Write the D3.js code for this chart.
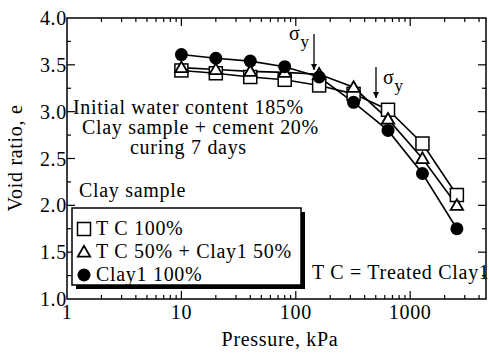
<!DOCTYPE html>
<html>
<head>
<meta charset="utf-8">
<script src="https://cdn.jsdelivr.net/npm/d3@7"></script>
<style>
  body { margin: 0; background: #fff; }
  svg text { font-family: "Liberation Serif", "Times New Roman", serif; fill: #000; letter-spacing: 0.7px; }
</style>
</head>
<body>
<svg id="chart" width="489" height="354"></svg>
<script>
// data
const pressures = [10, 20, 40, 80, 160, 320, 640, 1280, 2560];
const tc100   = [3.44, 3.41, 3.37, 3.34, 3.28, 3.19, 3.02, 2.66, 2.11];
const tc50    = [3.47, 3.45, 3.43, 3.42, 3.40, 3.26, 2.92, 2.50, 2.00];
const clay100 = [3.61, 3.57, 3.54, 3.48, 3.37, 3.10, 2.80, 2.34, 1.75];
const seriesNames = ["T C 100%", "T C 50% + Clay1 50%", "Clay1 100%"];
const seriesShapes = ["square", "triangle", "circle"];
const xTicks = [1, 10, 100, 1000];
const yTicks = [1.0, 1.5, 2.0, 2.5, 3.0, 3.5, 4.0];

const svg = d3.select('#chart')
const pLeft = 67, pRight = 486, pTop = 18, pBottom = 299
const fs = 20

const x = d3.scaleLog().domain([1, 4600]).range([pLeft, pRight])
const y = d3.scaleLinear().domain([1, 4]).range([pBottom, pTop])

// frame
svg.append('rect')
  .attr('x', pLeft).attr('y', pTop)
  .attr('width', pRight - pLeft).attr('height', pBottom - pTop)
  .attr('fill', 'none').attr('stroke', '#000').attr('stroke-width', 1.5)

// log minor ticks for top / bottom
let minor = []
for (let d = 1; d < 4600; d *= 10) {
  for (let k = 2; k <= 9; k++) if (d * k < 4600) minor.push(d * k)
}
const tickG = svg.append('g').attr('stroke', '#000').attr('stroke-width', 1.2)
minor.forEach(v => {
  tickG.append('line').attr('x1', x(v)).attr('x2', x(v)).attr('y1', pBottom).attr('y2', pBottom - 4)
  tickG.append('line').attr('x1', x(v)).attr('x2', x(v)).attr('y1', pTop).attr('y2', pTop + 4)
})
xTicks.slice(1).forEach(v => {
  tickG.append('line').attr('x1', x(v)).attr('x2', x(v)).attr('y1', pBottom).attr('y2', pBottom - 8)
  tickG.append('line').attr('x1', x(v)).attr('x2', x(v)).attr('y1', pTop).attr('y2', pTop + 8)
})
d3.range(1.25, 4, 0.5).forEach(v => {
  tickG.append('line').attr('x1', pLeft).attr('x2', pLeft + 4).attr('y1', y(v)).attr('y2', y(v))
  tickG.append('line').attr('x1', pRight).attr('x2', pRight - 4).attr('y1', y(v)).attr('y2', y(v))
})
yTicks.slice(1, -1).forEach(v => {
  tickG.append('line').attr('x1', pLeft).attr('x2', pLeft + 8).attr('y1', y(v)).attr('y2', y(v))
  tickG.append('line').attr('x1', pRight).attr('x2', pRight - 8).attr('y1', y(v)).attr('y2', y(v))
})

// tick labels
svg.selectAll('.xl').data(xTicks).enter().append('text')
  .attr('x', d => x(d)).attr('y', pBottom + 20)
  .attr('text-anchor', 'middle').attr('font-size', fs)
  .text(d => d)
svg.selectAll('.yl').data(yTicks).enter().append('text')
  .attr('x', pLeft).attr('y', d => y(d) + 7)
  .attr('text-anchor', 'end').attr('font-size', fs)
  .text(d => d.toFixed(1))

// axis titles
svg.append('text').attr('x', 280).attr('y', 346)
  .attr('text-anchor', 'middle').attr('font-size', fs).text('Pressure, kPa')
svg.append('text').attr('transform', 'translate(22,158) rotate(-90)')
  .attr('text-anchor', 'middle').attr('font-size', fs).text('Void ratio, e')

// series
const series = [tc100, tc50, clay100]
const line = d3.line().x((d, i) => x(pressures[i])).y(d => y(d))

series.forEach(s => {
  svg.append('path').attr('d', line(s))
    .attr('fill', 'none').attr('stroke', '#000').attr('stroke-width', 1.6)
})

function drawMarker(g, shape, cx, cy) {
  if (shape === 'square') {
    g.append('rect').attr('x', cx - 6.5).attr('y', cy - 6.5).attr('width', 13).attr('height', 13)
      .attr('fill', '#fff').attr('stroke', '#000').attr('stroke-width', 1.5)
  } else if (shape === 'triangle') {
    g.append('path').attr('d', d3.symbol().type(d3.symbolTriangle).size(66)())
      .attr('transform', `translate(${cx},${cy + 1})`)
      .attr('fill', '#fff').attr('stroke', '#000').attr('stroke-width', 1.8)
  } else {
    g.append('circle').attr('cx', cx).attr('cy', cy).attr('r', 6.5).attr('fill', '#000')
  }
}

const markG = svg.append('g')
series.forEach((s, k) => {
  s.forEach((v, i) => drawMarker(markG, seriesShapes[k], x(pressures[i]), y(v)))
})

// annotations
const ann = svg.append('g').attr('font-size', fs)
ann.append('text').attr('x', 73).attr('y', 114).text('Initial water content 185%')
ann.append('text').attr('x', 82).attr('y', 134).text('Clay sample + cement 20%')
ann.append('text').attr('x', 130).attr('y', 154).text('curing 7 days')
ann.append('text').attr('x', 79).attr('y', 197).text('Clay sample')
ann.append('text').attr('x', 312).attr('y', 279).text('T C = Treated Clay1')

// yield stress arrows
svg.append('defs').append('marker')
  .attr('id', 'arr').attr('viewBox', '0 0 10 10').attr('refX', 10).attr('refY', 5)
  .attr('markerWidth', 6).attr('markerHeight', 9).attr('markerUnits', 'userSpaceOnUse')
  .attr('orient', 'auto')
  .append('path').attr('d', 'M0,0 L10,5 L0,10 Z').attr('fill', '#000')

function sigmaY(ax, ay1, ay2, tx, ty) {
  svg.append('line').attr('x1', ax).attr('x2', ax).attr('y1', ay1).attr('y2', ay2)
    .attr('stroke', '#000').attr('stroke-width', 1.3).attr('marker-end', 'url(#arr)')
  const t = svg.append('text').attr('x', tx).attr('y', ty).attr('font-size', fs)
  t.append('tspan').text('σ')
  t.append('tspan').attr('dy', 7).attr('font-size', 17).text('y')
}
sigmaY(314, 34, 70, 289, 40)
sigmaY(376, 67, 98, 383, 84)

// legend
const lg = svg.append('g')
lg.append('rect').attr('x', 76).attr('y', 212).attr('width', 229).attr('height', 77).attr('fill', '#000')
lg.append('rect').attr('x', 72).attr('y', 208).attr('width', 229).attr('height', 77)
  .attr('fill', '#fff').attr('stroke', '#000').attr('stroke-width', 1.5)
const rowsY = [229, 252, 275]
seriesNames.forEach((name, k) => {
  drawMarker(lg, seriesShapes[k], 84, rowsY[k])
  lg.append('text').attr('x', 96).attr('y', rowsY[k] + 6).attr('font-size', fs).text(name)
})
</script>
</body>
</html>
